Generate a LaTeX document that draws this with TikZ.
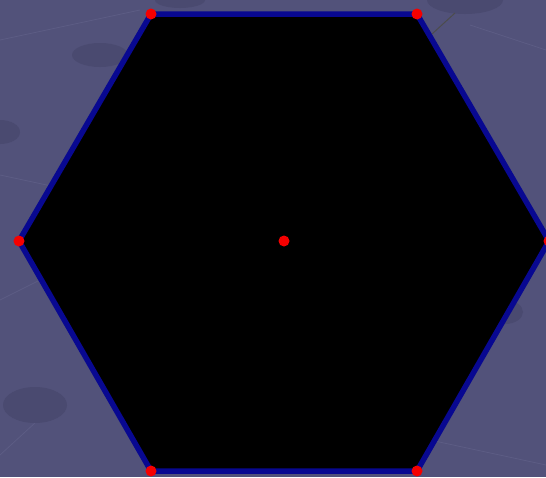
\documentclass[tikz,border=0pt]{standalone}
\definecolor{bg}{RGB}{82,82,122}
\definecolor{bgdark}{RGB}{74,74,112}
\definecolor{bglight}{RGB}{92,92,132}
\definecolor{edge}{RGB}{8,8,145}
\definecolor{dotred}{RGB}{245,0,0}
\tikzset{
  vdot/.style={circle,fill=dotred,inner sep=0pt,minimum size=11pt},
  hexedge/.style={draw=edge,line width=5.5pt,line join=miter,fill=black},
  shade/.style={fill=bgdark},
  faint/.style={draw=bglight,line width=0.8pt}
}
\begin{document}
\begin{tikzpicture}[x=1pt,y=-1pt]
\fill[bg] (0,0) rectangle (546,477);
\useasboundingbox (0,0) rectangle (546,477);
% faint background texture
\draw[faint] (0,40) -- (140,10);
\draw[faint] (470,25) -- (546,50);
\draw[faint] (0,455) -- (60,400);
\draw[faint] (0,175) -- (70,190);
\draw[faint] (0,300) -- (40,280);
\draw[faint] (430,440) -- (546,465);
\fill[shade] (465,0) ellipse (38 and 14);
\fill[shade] (180,0) ellipse (25 and 8);
\fill[shade] (100,55) ellipse (28 and 12);
\fill[shade] (0,132) ellipse (20 and 12);
\fill[shade] (35,405) ellipse (32 and 18);
\fill[shade] (505,312) ellipse (18 and 12);
\draw[black!70,line width=1pt] (432,34) -- (455,13);
% hexagon
\coordinate (c) at (284,241);
\coordinate (p1) at (151,14);
\coordinate (p2) at (417,14);
\coordinate (p3) at (549,241);
\coordinate (p4) at (417,471);
\coordinate (p5) at (151,471);
\coordinate (p6) at (19,241);
\path[hexedge] (p1) -- (p2) -- (p3) -- (p4) -- (p5) -- (p6) -- cycle;
\node[vdot] (v1) at (p1) {};
\node[vdot] (v2) at (p2) {};
\node[vdot] (v3) at (p3) {};
\node[vdot] (v4) at (p4) {};
\node[vdot] (v5) at (p5) {};
\node[vdot] (v6) at (p6) {};
\node[vdot] (vc) at (c) {};
\end{tikzpicture}
\end{document}
